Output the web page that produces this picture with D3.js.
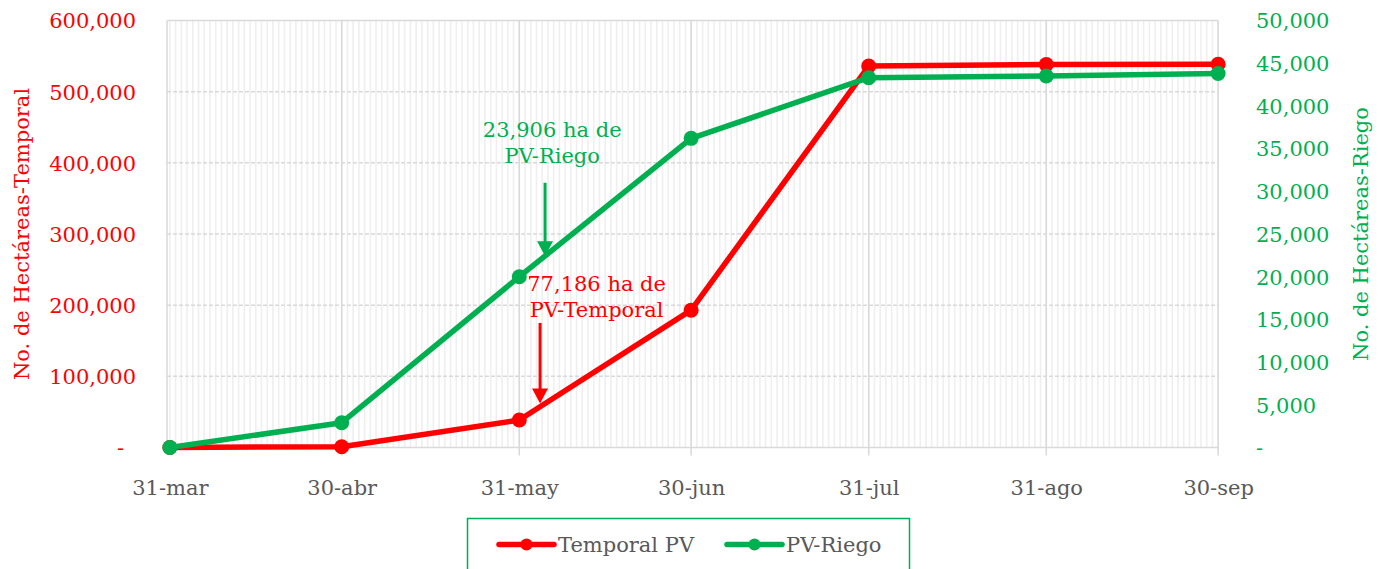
<!DOCTYPE html>
<html>
<head>
<meta charset="utf-8">
<script src="https://cdn.jsdelivr.net/npm/d3@7"></script>
<style>
  html, body { margin: 0; padding: 0; background: #fff; }
  svg { display: block; font-family: "DejaVu Serif", serif; }
</style>
</head>
<body>
<svg id="chart" width="1382" height="569"></svg>
<script>
// ---- data ----
const dates = ["2020-03-31", "2020-04-30", "2020-05-31", "2020-06-30", "2020-07-31", "2020-08-31", "2020-09-30"];
const xTickLabels = ["31-mar", "30-abr", "31-may", "30-jun", "31-jul", "31-ago", "30-sep"];
const temporalPV = [0, 1100, 38600, 193000, 536000, 538000, 538500];
const pvRiego = [0, 2900, 20000, 36200, 43300, 43500, 43800];
const leftTicks = [0, 100000, 200000, 300000, 400000, 500000, 600000];
const rightTicks = [0, 5000, 10000, 15000, 20000, 25000, 30000, 35000, 40000, 45000, 50000];
const seriesNames = ["Temporal PV", "PV-Riego"];
const annotRiego = { text: ["23,906 ha de", "PV-Riego"], date: "2020-06-04T12", textDate: "2020-06-05T18", from: 31000, to: 22400 };
const annotTemporal = { text: ["77,186 ha de", "PV-Temporal"], date: "2020-06-03T15", textDate: "2020-06-13T12", from: 175000, to: 62000 };

(function () {
const RED = "#ff0000", GREEN = "#00b050", GRID = "#d9d9d9", TXT = "#595959", FS = 21;
const svg = d3.select("#chart");
const parse = d3.utcParse("%Y-%m-%d");
const parseH = s => s.includes("T") ? d3.utcParse("%Y-%m-%dT%H")(s) : parse(s);
const dts = dates.map(parse);

const pL = 167, pR = 1221, pT = 20.5, pB = 447.5;
const x = d3.scaleUtc()
  .domain([d3.utcHour.offset(dts[0], -12), d3.utcHour.offset(dts[dts.length - 1], 12)])
  .range([pL, pR]);
const yL = d3.scaleLinear().domain([0, 600000]).range([pB, pT]);
const yR = d3.scaleLinear().domain([0, 50000]).range([pB, pT]);

// minor daily gridlines
const days = d3.utcDay.range(dts[0], d3.utcDay.offset(dts[dts.length - 1], 1));
svg.append("g").selectAll("line").data(days).join("line")
  .attr("x1", d => x(d)).attr("x2", d => x(d))
  .attr("y1", pT).attr("y2", pB)
  .attr("stroke", "#efefef").attr("stroke-width", 1.6);

// horizontal dashed gridlines
svg.append("g").selectAll("line").data(leftTicks.slice(1)).join("line")
  .attr("x1", pL).attr("x2", x(dts[dts.length - 1]))
  .attr("y1", d => yL(d)).attr("y2", d => yL(d))
  .attr("stroke", GRID).attr("stroke-width", 1.5)
  .attr("stroke-dasharray", d => d === 600000 ? null : "4,2");

// major vertical gridlines + ticks
svg.append("g").selectAll("line").data(dts.slice(1)).join("line")
  .attr("x1", d => x(d)).attr("x2", d => x(d))
  .attr("y1", pT).attr("y2", pB + 8)
  .attr("stroke", GRID).attr("stroke-width", 1.5);
svg.append("line").attr("x1", pL).attr("x2", pL).attr("y1", pT).attr("y2", pB)
  .attr("stroke", GRID).attr("stroke-width", 1.5);
svg.append("line").attr("x1", pL).attr("x2", x(dts[dts.length - 1])).attr("y1", pB).attr("y2", pB)
  .attr("stroke", GRID).attr("stroke-width", 1.5);

// x axis labels
const xAxis = d3.axisBottom(x).tickValues(dts).tickFormat((d, i) => xTickLabels[i]).tickSize(0).tickPadding(0);
const gx = svg.append("g").attr("transform", `translate(0,${pB + 47})`).call(xAxis);
gx.select(".domain").remove();
gx.selectAll("text").attr("fill", TXT).attr("font-size", FS).attr("font-family", "DejaVu Serif").attr("dy", 0);

const fmt = d3.format(",");
const yAxisL = d3.axisLeft(yL).tickValues(leftTicks).tickFormat(d => d === 0 ? "-" : fmt(d)).tickSize(0).tickPadding(0);
const gl = svg.append("g").attr("transform", `translate(136,0)`).call(yAxisL);
gl.select(".domain").remove();
gl.selectAll("text").attr("fill", RED).attr("font-size", FS).attr("font-family", "DejaVu Serif")
  .attr("dx", d => d === 0 ? -12 : 0).attr("dy", "0.35em");
const yAxisR = d3.axisRight(yR).tickValues(rightTicks).tickFormat(d => d === 0 ? "-" : fmt(d)).tickSize(0).tickPadding(0);
const gr = svg.append("g").attr("transform", `translate(1256,0)`).call(yAxisR);
gr.select(".domain").remove();
gr.selectAll("text").attr("fill", GREEN).attr("font-size", FS).attr("font-family", "DejaVu Serif").attr("dy", "0.35em");

svg.append("text").attr("transform", `translate(29,${(pT + pB) / 2}) rotate(-90)`)
  .attr("text-anchor", "middle").attr("fill", RED).attr("font-size", FS).text("No. de Hectáreas-Temporal");
svg.append("text").attr("transform", `translate(1368,${(pT + pB) / 2}) rotate(-90)`)
  .attr("text-anchor", "middle").attr("fill", GREEN).attr("font-size", FS).text("No. de Hectáreas-Riego");

const series = [
  { name: seriesNames[0], values: temporalPV, y: yL, color: RED },
  { name: seriesNames[1], values: pvRiego, y: yR, color: GREEN }
];
series.forEach(s => {
  const line = d3.line().x((d, i) => x(dts[i])).y(d => s.y(d));
  svg.append("path").datum(s.values).attr("d", line)
    .attr("fill", "none").attr("stroke", s.color).attr("stroke-width", 5.5)
    .attr("stroke-linejoin", "round");
  svg.append("g").selectAll("circle").data(s.values).join("circle")
    .attr("cx", (d, i) => x(dts[i])).attr("cy", d => s.y(d)).attr("r", 7.5).attr("fill", s.color);
});

function annotate(a, yScale, color, textY) {
  const ax = x(parseH(a.date)), textX = x(parseH(a.textDate));
  const y1 = yScale(a.from), y2 = yScale(a.to);
  svg.append("line").attr("x1", ax).attr("x2", ax).attr("y1", y1).attr("y2", y2 - 12)
    .attr("stroke", color).attr("stroke-width", 3);
  svg.append("path").attr("d", `M${ax - 8},${y2 - 15} L${ax + 8},${y2 - 15} L${ax},${y2} Z`).attr("fill", color);
  const t = svg.append("text").attr("fill", color).attr("font-size", FS).attr("text-anchor", "middle");
  a.text.forEach((s, i) => t.append("tspan").attr("x", textX).attr("y", textY + i * 25.5).text(s));
}
annotate(annotRiego, yR, GREEN, 137);
annotate(annotTemporal, yL, RED, 291);

const lg = svg.append("g");
lg.append("rect").attr("x", 467.5).attr("y", 518.5).attr("width", 442).attr("height", 70)
  .attr("fill", "#fff").attr("stroke", GREEN).attr("stroke-width", 1.5);
const legendItems = [{ name: seriesNames[0], color: RED, x0: 499 }, { name: seriesNames[1], color: GREEN, x0: 727 }];
legendItems.forEach(it => {
  lg.append("line").attr("x1", it.x0).attr("x2", it.x0 + 55).attr("y1", 544.5).attr("y2", 544.5)
    .attr("stroke", it.color).attr("stroke-width", 5.5).attr("stroke-linecap", "round");
  lg.append("circle").attr("cx", it.x0 + 27.5).attr("cy", 544.5).attr("r", 6).attr("fill", it.color);
  lg.append("text").attr("x", it.x0 + 59).attr("y", 552).attr("fill", TXT).attr("font-size", FS).text(it.name);
});
})();
</script>
</body>
</html>
